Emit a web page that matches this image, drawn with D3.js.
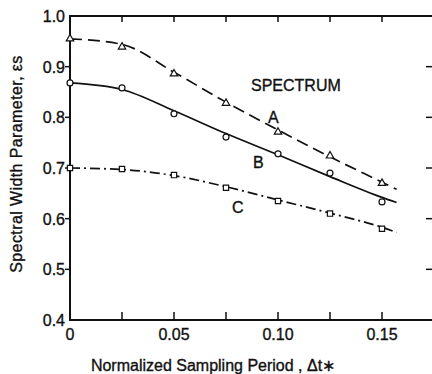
<!DOCTYPE html>
<html>
<head>
<meta charset="utf-8">
<script src="https://cdn.jsdelivr.net/npm/d3@7"></script>
<style>
  body { margin: 0; background: #fff; }
  svg { display: block; font-family: "Liberation Sans", Arial, sans-serif; }
  text { stroke: #111; stroke-width: 0.35px; }
</style>
</head>
<body>
<svg id="chart" width="432" height="374"></svg>
<script>
const xPoints = [0, 0.025, 0.05, 0.075, 0.10, 0.125, 0.15];
const markA = [0.955, 0.939, 0.886, 0.828, 0.771, 0.724, 0.67];
const markB = [0.868, 0.858, 0.807, 0.761, 0.728, 0.69, 0.633];
const markC = [0.70, 0.698, 0.686, 0.661, 0.635, 0.61, 0.58];

// faired curves drawn through them
const xCurve = [0, 0.025, 0.05, 0.075, 0.10, 0.125, 0.15, 0.157];
const curveA = [0.955, 0.944, 0.889, 0.83, 0.775, 0.722, 0.672, 0.658];
const curveB = [0.868, 0.855, 0.813, 0.768, 0.726, 0.683, 0.642, 0.632];
const curveC = [0.70, 0.697, 0.685, 0.663, 0.637, 0.611, 0.583, 0.573];

const xTicks = [0, 0.025, 0.05, 0.075, 0.10, 0.125, 0.15];
const xLabels = ['0', '', '0.05', '', '0.10', '', '0.15'];
const yTicks = [0.4, 0.5, 0.6, 0.7, 0.8, 0.9, 1.0];
const yLabels = ['0.4', '0.5', '0.6', '0.7', '0.8', '0.9', '1.0'];

const svg = d3.select('#chart');
const x = d3.scaleLinear().domain([0, 0.175]).range([70, 434]);
const y = d3.scaleLinear().domain([0.4, 1.0]).range([320, 16]);

const ink = '#111';

// frame
svg.append('rect')
  .attr('x', x(0)).attr('y', y(1.0))
  .attr('width', x(0.175) - x(0)).attr('height', y(0.4) - y(1.0))
  .attr('fill', 'none').attr('stroke', ink).attr('stroke-width', 2);

// ticks
const g = svg.append('g').attr('stroke', ink).attr('stroke-width', 1.5);
xTicks.forEach((t) => {
  if (t === 0) return;
  g.append('line').attr('x1', x(t)).attr('x2', x(t)).attr('y1', y(0.4)).attr('y2', y(0.4) - 8);
  g.append('line').attr('x1', x(t)).attr('x2', x(t)).attr('y1', y(1.0)).attr('y2', y(1.0) + 6);
});
yTicks.forEach((t) => {
  if (t === 0.4 || t === 1.0) return;
  g.append('line').attr('x1', x(0) - 5).attr('x2', x(0)).attr('y1', y(t)).attr('y2', y(t));
  g.append('line').attr('x1', x(0.175) - 8).attr('x2', x(0.175)).attr('y1', y(t)).attr('y2', y(t));
});

// tick labels
svg.append('g').selectAll('text').data(yTicks).join('text')
  .attr('x', x(0) - 5).attr('y', (d) => y(d) + 6)
  .attr('text-anchor', 'end').attr('font-size', 16).attr('fill', ink)
  .text((d, i) => yLabels[i]);
svg.append('g').selectAll('text').data(xTicks).join('text')
  .attr('x', (d) => x(d)).attr('y', 340)
  .attr('text-anchor', 'middle').attr('font-size', 16).attr('fill', ink)
  .text((d, i) => xLabels[i]);

// axis titles
svg.append('text')
  .attr('x', 213).attr('y', 371).attr('text-anchor', 'middle')
  .attr('font-size', 16).attr('fill', ink)
  .text('Normalized Sampling Period , \u0394t\u2217');
svg.append('text')
  .attr('transform', 'translate(22,164) rotate(-90)').attr('text-anchor', 'middle')
  .attr('font-size', 16).attr('fill', ink).attr('letter-spacing', 0.4)
  .text('Spectral Width Parameter,  \u03b5s');

// curves
const line = d3.line().x((d) => x(d[0])).y((d) => y(d[1])).curve(d3.curveMonotoneX);
const series = [
  { curve: curveA, marks: markA, dash: '12,6', shape: 'tri' },
  { curve: curveB, marks: markB, dash: null, shape: 'circle' },
  { curve: curveC, marks: markC, dash: '10,4,2,4', shape: 'square' },
];
series.forEach((s) => {
  svg.append('path')
    .attr('d', line(xCurve.map((xv, i) => [xv, s.curve[i]])))
    .attr('fill', 'none').attr('stroke', ink).attr('stroke-width', 1.7)
    .attr('stroke-dasharray', s.dash);
  const sym = s.shape === 'tri' ? d3.symbolTriangle : s.shape === 'square' ? d3.symbolSquare : d3.symbolCircle;
  const size = s.shape === 'tri' ? 24 : s.shape === 'square' ? 28 : 28;
  svg.append('g').selectAll('path').data(xPoints).join('path')
    .attr('transform', (d, i) => `translate(${x(d)},${y(s.marks[i])})`)
    .attr('d', d3.symbol(sym, size))
    .attr('fill', '#fff').attr('stroke', ink).attr('stroke-width', 1.2);
});

// annotations
const notes = [
  { t: 'SPECTRUM', x: 251, y: 91 },
  { t: 'A', x: 268, y: 123 },
  { t: 'B', x: 253, y: 168 },
  { t: 'C', x: 232, y: 213 },
];
svg.append('g').selectAll('text').data(notes).join('text')
  .attr('x', (d) => d.x).attr('y', (d) => d.y)
  .attr('font-size', 16).attr('fill', ink)
  .text((d) => d.t);
</script>
</body>
</html>
